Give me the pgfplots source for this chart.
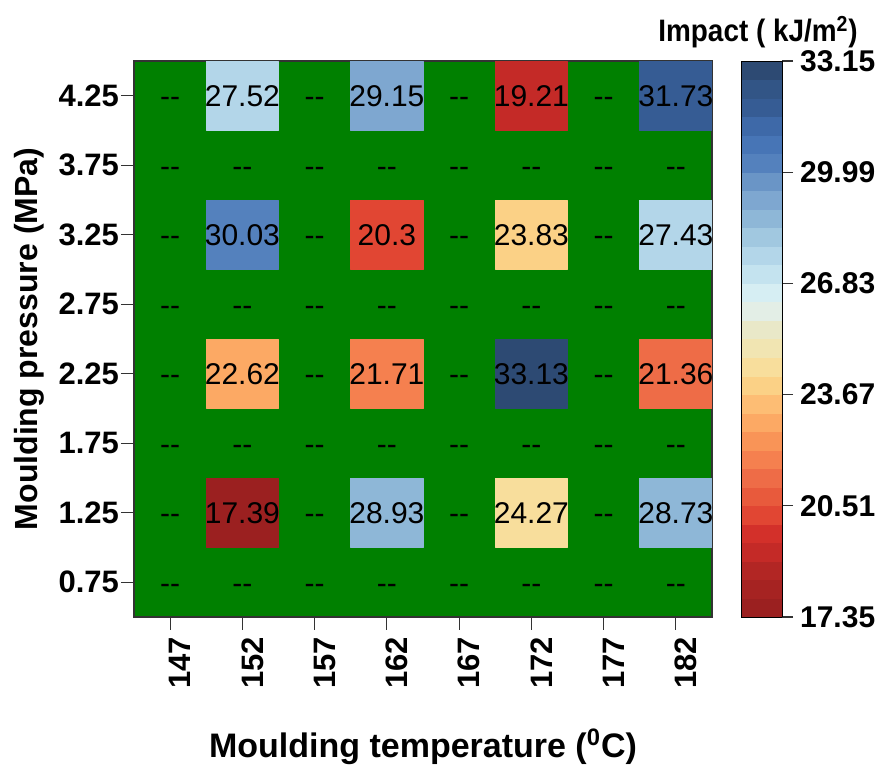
\documentclass[border=0pt]{standalone}
\usepackage{pgfplots}
\pgfplotsset{compat=1.18}
\usepackage{fontspec}
\setmainfont{Liberation Sans}
\definecolor{bggreen}{RGB}{0,128,0}
\pgfplotsset{colormap={impact}{
rgb255=(155,32,32) rgb255=(166,35,34) rgb255=(178,38,36) rgb255=(196,42,39) rgb255=(211,48,42)
rgb255=(225,70,51) rgb255=(232,90,60) rgb255=(238,108,71) rgb255=(245,128,79) rgb255=(249,148,87)
rgb255=(252,169,100) rgb255=(253,189,116) rgb255=(251,209,134) rgb255=(248,222,156) rgb255=(241,229,178)
rgb255=(233,232,200) rgb255=(227,238,230) rgb255=(214,238,243) rgb255=(196,227,239) rgb255=(179,214,233)
rgb255=(161,200,224) rgb255=(142,183,215) rgb255=(126,167,208) rgb255=(106,149,198) rgb255=(84,129,189)
rgb255=(71,117,182) rgb255=(62,105,168) rgb255=(54,92,148) rgb255=(50,85,134) rgb255=(45,74,115)}}
\newcommand{\dd}{-\kern0pt-}
\begin{document}
\begin{tikzpicture}
\path[use as bounding box] (-67pt,-76pt) rectangle (375pt,308.5pt);
\begin{axis}[
  at={(0,0)}, anchor=south west,
  width=289pt, height=278pt, scale only axis,
  xmin=144.5, xmax=184.5, ymin=0.5, ymax=4.5,
  axis background/.style={fill=bggreen},
  axis line style={black!80, line width=0.6pt},
  colormap name=impact, colormap access=piecewise constant,
  point meta min=17.35, point meta max=33.15,
  xtick={147,152,157,162,167,172,177,182},
  xticklabels={147,152,157,162,167,172,177,182},
  ytick={0.75,1.25,1.75,2.25,2.75,3.25,3.75,4.25},
  yticklabels={0.75,1.25,1.75,2.25,2.75,3.25,3.75,4.25},
  tick pos=left, tick align=outside, major tick length=6.5pt,
  tick style={black!80, line width=0.6pt},
  xticklabel style={rotate=90, anchor=east, yshift=-5pt, font=\bfseries\fontsize{15.5}{18}\selectfont},
  yticklabel style={xshift=2.5pt, font=\bfseries\fontsize{15.5}{18}\selectfont},
  xlabel={Moulding temperature (\textsuperscript{0}C)},
  ylabel={Moulding pressure (MPa)},
  xlabel style={at={([yshift=-70.5pt]axis description cs:0.5,0)}, anchor=base, font=\bfseries\fontsize{17}{20}\selectfont},
  ylabel style={at={([xshift=-48pt]axis description cs:0,0.5)}, anchor=base, rotate=0, font=\bfseries\fontsize{16}{19}\selectfont},
  colorbar,
  colorbar style={
    width=20.5pt,
    at={(parent axis.north east)}, anchor=north west, xshift=6pt,
    ytick={17.35,20.51,23.67,26.83,29.99,33.15},
    yticklabels={17.35,20.51,23.67,26.83,29.99,33.15},
    ytick pos=right, yticklabel pos=right,
    tick align=outside, major tick length=5.5pt,
    yticklabel style={font=\bfseries\fontsize{15}{18}\selectfont},
    title={\scalebox{0.9}[1]{Impact ( kJ/m\textsuperscript{2})}},
    title style={at={(0.5,1)}, anchor=base, yshift=3.5pt, xshift=-1.75pt, font=\bfseries\fontsize{15.5}{18}\selectfont},
  },
]
\addplot[patch, patch type=rectangle, shader=flat mean, point meta=explicit]
table[meta=c] {
x y c
149.5 4.0 27.52
154.5 4.0 27.52
154.5 4.5 27.52
149.5 4.5 27.52
159.5 4.0 29.15
164.5 4.0 29.15
164.5 4.5 29.15
159.5 4.5 29.15
169.5 4.0 19.21
174.5 4.0 19.21
174.5 4.5 19.21
169.5 4.5 19.21
179.5 4.0 31.73
184.5 4.0 31.73
184.5 4.5 31.73
179.5 4.5 31.73
149.5 3.0 30.03
154.5 3.0 30.03
154.5 3.5 30.03
149.5 3.5 30.03
159.5 3.0 20.3
164.5 3.0 20.3
164.5 3.5 20.3
159.5 3.5 20.3
169.5 3.0 23.83
174.5 3.0 23.83
174.5 3.5 23.83
169.5 3.5 23.83
179.5 3.0 27.43
184.5 3.0 27.43
184.5 3.5 27.43
179.5 3.5 27.43
149.5 2.0 22.62
154.5 2.0 22.62
154.5 2.5 22.62
149.5 2.5 22.62
159.5 2.0 21.71
164.5 2.0 21.71
164.5 2.5 21.71
159.5 2.5 21.71
169.5 2.0 33.13
174.5 2.0 33.13
174.5 2.5 33.13
169.5 2.5 33.13
179.5 2.0 21.36
184.5 2.0 21.36
184.5 2.5 21.36
179.5 2.5 21.36
149.5 1.0 17.39
154.5 1.0 17.39
154.5 1.5 17.39
149.5 1.5 17.39
159.5 1.0 28.93
164.5 1.0 28.93
164.5 1.5 28.93
159.5 1.5 28.93
169.5 1.0 24.27
174.5 1.0 24.27
174.5 1.5 24.27
169.5 1.5 24.27
179.5 1.0 28.73
184.5 1.0 28.73
184.5 1.5 28.73
179.5 1.5 28.73
};
\addplot[only marks, mark=none, point meta=explicit symbolic,
  nodes near coords, every node near coord/.append style={anchor=base, yshift=-5.4pt, black, font=\fontsize{15}{18}\selectfont}]
table[meta=lab] {
x y lab
147 4.25 \dd
152 4.25 27.52
157 4.25 \dd
162 4.25 29.15
167 4.25 \dd
172 4.25 19.21
177 4.25 \dd
182 4.25 31.73
147 3.75 \dd
152 3.75 \dd
157 3.75 \dd
162 3.75 \dd
167 3.75 \dd
172 3.75 \dd
177 3.75 \dd
182 3.75 \dd
147 3.25 \dd
152 3.25 30.03
157 3.25 \dd
162 3.25 20.3
167 3.25 \dd
172 3.25 23.83
177 3.25 \dd
182 3.25 27.43
147 2.75 \dd
152 2.75 \dd
157 2.75 \dd
162 2.75 \dd
167 2.75 \dd
172 2.75 \dd
177 2.75 \dd
182 2.75 \dd
147 2.25 \dd
152 2.25 22.62
157 2.25 \dd
162 2.25 21.71
167 2.25 \dd
172 2.25 33.13
177 2.25 \dd
182 2.25 21.36
147 1.75 \dd
152 1.75 \dd
157 1.75 \dd
162 1.75 \dd
167 1.75 \dd
172 1.75 \dd
177 1.75 \dd
182 1.75 \dd
147 1.25 \dd
152 1.25 17.39
157 1.25 \dd
162 1.25 28.93
167 1.25 \dd
172 1.25 24.27
177 1.25 \dd
182 1.25 28.73
147 0.75 \dd
152 0.75 \dd
157 0.75 \dd
162 0.75 \dd
167 0.75 \dd
172 0.75 \dd
177 0.75 \dd
182 0.75 \dd
};
\end{axis}
\end{tikzpicture}
\end{document}
